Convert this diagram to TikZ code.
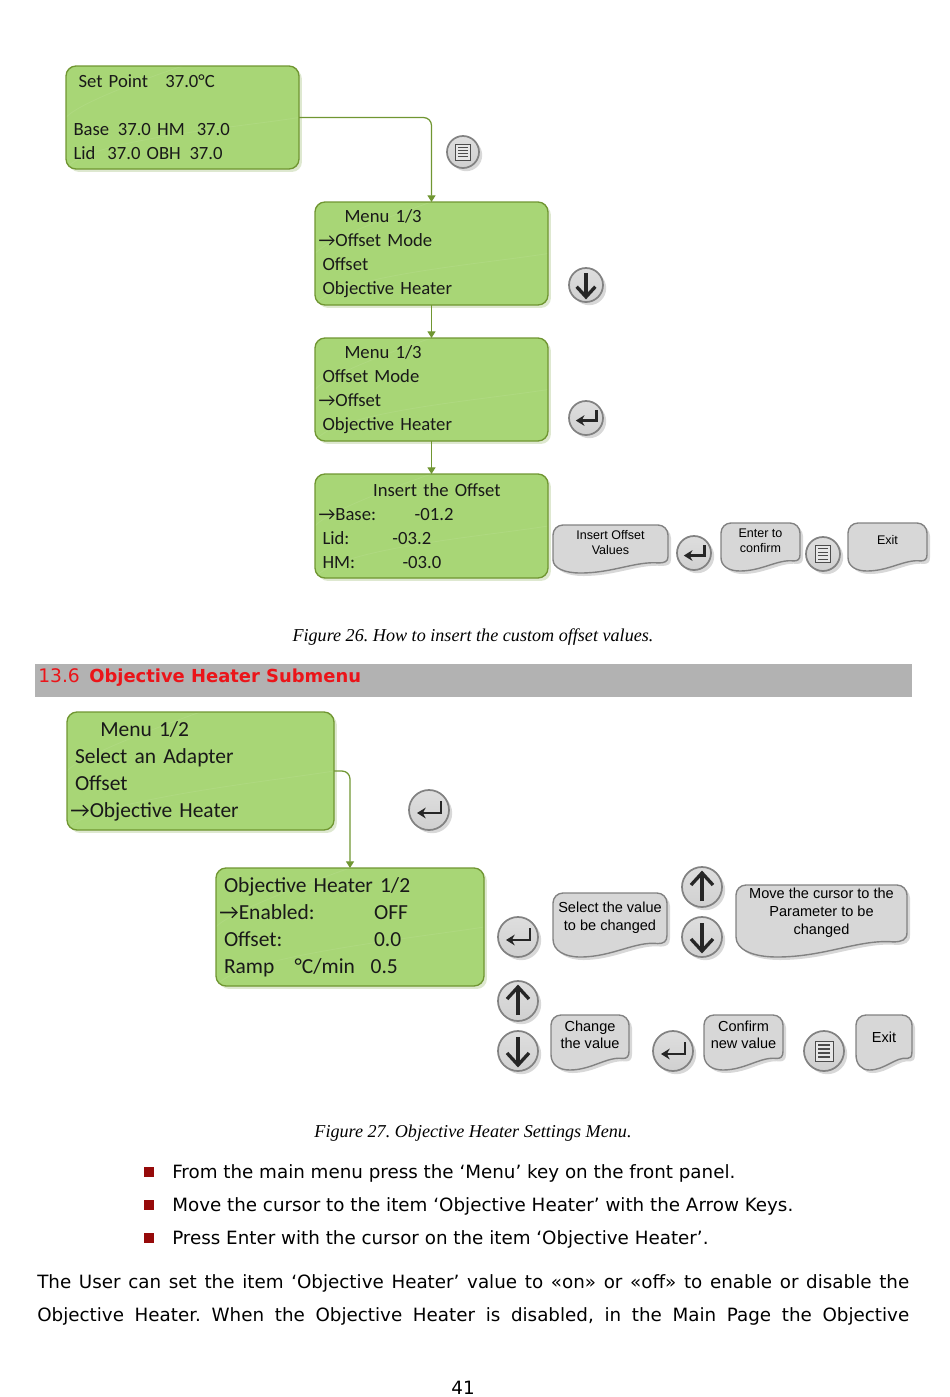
\documentclass[tikz,border=0pt]{standalone}
\usepackage{fontspec}
\setmainfont{DejaVu Sans}
\newfontfamily\lcdfont{Carlito}
\newfontfamily\calloutfont{Liberation Sans}
\newfontfamily\captionfont{Liberation Serif}
\usepackage{xcolor}
\definecolor{lcdgreen}{RGB}{168, 214, 118}
\definecolor{lcdedge}{RGB}{112, 150, 50}
\definecolor{lcdshadow}{RGB}{222, 232, 208}
\definecolor{keygrey}{RGB}{208, 208, 208}
\definecolor{keyedge}{RGB}{130, 130, 130}
\definecolor{keyshadow}{RGB}{216, 216, 216}
\definecolor{bargrey}{RGB}{178, 178, 178}
\definecolor{headred}{RGB}{235, 20, 25}
\definecolor{bulletred}{RGB}{150, 10, 10}
\usetikzlibrary{
  arrows.meta,
  calc
}
\tikzset{
  lcd/.style={draw=lcdedge, line width=1pt, fill=lcdgreen, rounded corners=7.5pt, outer sep=0pt,
    preaction={draw=none, fill=lcdshadow, transform canvas={shift={(2.2pt,-2.2pt)}}},
    path picture={
      \draw[white, opacity=0.08, line width=0.6pt, sharp corners]
        (path picture bounding box.south west) .. controls +(15pt,22pt) and +(-50pt,-8pt) .. (path picture bounding box.east);
      \draw[white, opacity=0.08, line width=0.6pt, sharp corners]
        (path picture bounding box.west) .. controls +(10pt,12pt) and +(-12pt,-4pt) .. (path picture bounding box.north);
    },
    anchor=north west, align=left, inner xsep=0pt, inner ysep=0pt, text=black!90},
  lcdsmall/.style={lcd, font=\lcdfont\fontsize{14}{18}\selectfont},
  lcdbig/.style={lcd, font=\lcdfont\fontsize{16.1}{20.25}\selectfont},
  flow/.style={draw=lcdedge, line width=0.95pt, rounded corners=6pt, -{Triangle[length=5pt, width=6pt]}},
  keybtn/.style={circle, draw=keyedge, line width=1.3pt, top color=keygrey!70, bottom color=keygrey, outer sep=0pt,
    inner sep=0pt, preaction={draw=none, fill=keyshadow, transform canvas={shift={(2.4pt,-2.4pt)}}}},
  waveline/.style={draw=keyedge, line width=1.05pt, fill=keygrey!85},
  waveshadow/.style={fill=keyshadow, draw=none},
  calltiny/.style={font=\calloutfont\fontsize{9.4}{11.2}\selectfont, align=center, inner sep=0pt},
  callbig/.style={font=\calloutfont\fontsize{10.9}{13.4}\selectfont, align=center, inner sep=0pt},
  keyicon/.style={line width=2pt, black!85},
  figcaption/.style={font=\captionfont\itshape\fontsize{13.6}{16}\selectfont, inner sep=0pt},
  bodytext/.style={font=\fontsize{13.72}{16}\selectfont, anchor=west, inner sep=0pt},
  bulletmark/.style={fill=bulletred, minimum size=7.5pt, inner sep=0pt}
}
% grey key with its icon: name, x, y, radius
\newcommand{\enterkey}[4]{
  \node[keybtn, minimum size=#4*1.5pt] (#1) at (#2,#3) {};
  \begin{scope}[shift={(#1.center)}, scale=#4/20]
    \draw[keyicon, -{Stealth[length=6.5pt, width=8pt]}] (12,-9) -- (12,3) -- (-12,3);
  \end{scope}
}
\newcommand{\upkey}[4]{
  \node[keybtn, minimum size=#4*1.5pt] (#1) at (#2,#3) {};
  \begin{scope}[shift={(#1.center)}, scale=#4/20]
    \draw[keyicon, line width=2.5pt] (0,14) -- (0,-13);
    \draw[keyicon, line width=2.5pt] (-11,-2) -- (0,-14) -- (11,-2);
  \end{scope}
}
\newcommand{\downkey}[4]{
  \node[keybtn, minimum size=#4*1.5pt] (#1) at (#2,#3) {};
  \begin{scope}[shift={(#1.center)}, scale=#4/20]
    \draw[keyicon, line width=2.5pt] (0,-14) -- (0,13);
    \draw[keyicon, line width=2.5pt] (-11,2) -- (0,14) -- (11,2);
  \end{scope}
}
\newcommand{\menukey}[4]{
  \node[keybtn, minimum size=#4*1.5pt] (#1) at (#2,#3) {};
  \begin{scope}[shift={(#1.center)}, scale=#4/20]
    \draw[black!70, line width=0.7pt, fill=keygrey!50] (-9,-10) rectangle (9,10);
    \foreach \rowy in {-6,-2,2,6}
      \draw[black!70, line width=0.8pt] (-6,\rowy) -- (6,\rowy);
  \end{scope}
}
% wavy callout: style, name, x0, y0, x1, y1, text
\newcommand{\wavepath}{
  (0,\waverb) .. controls (0,{0.45*\waverb}) and ({0.45*\waverx},0) .. (\waverx,0)
  -- ({1-\waverx},0) .. controls ({1-0.45*\waverx},0) and (1,{0.45*\waverb}) .. (1,\waverb)
  -- (1,0.66) .. controls (1,0.76) and (0.97,0.79) .. (0.92,0.79)
  .. controls (0.72,0.75) and (0.52,1) .. (0.24,1)
  .. controls (0.1,1) and (0,0.9) .. (0,0.72) -- cycle
}
\newcommand{\wavekey}[7]{
  \pgfmathsetmacro{\wavew}{(#5-#3)*0.75}
  \pgfmathsetmacro{\waveh}{(#6-#4)*-0.75}
  \pgfmathsetmacro{\waverx}{10/(#5-#3)}
  \pgfmathsetmacro{\waverb}{10/(#6-#4)}
  \begin{scope}[shift={(#3+3,#4+3)}, x=\wavew pt, y=\waveh pt]
    \path[waveshadow] \wavepath;
  \end{scope}
  \begin{scope}[shift={(#3,#4)}, x=\wavew pt, y=\waveh pt]
    \path[waveline] \wavepath;
    \node[#1] (#2) at (0.5,0.36) {#7};
  \end{scope}
}
\newcommand{\cursorarrow}{→}
\frenchspacing
\begin{document}
\begin{tikzpicture}[x=0.75pt, y=-0.75pt]
  \useasboundingbox (0,0) rectangle (950,1397);

  % FIGURE 26 - panels
  \node[lcdsmall, minimum width=174.75pt, minimum height=77.25pt, text width=163.5pt] (setpoint) at (66,66)
    {\hspace*{3.75pt}Set Point\hspace{13pt}37.0°C\\ \mbox{}\\ Base\hspace{6.5pt}37.0 HM\hspace{9pt}37.0\\ Lid\hspace{9pt}37.0 OBH\hspace{6.5pt}37.0};
  \node[lcdsmall, minimum width=174.75pt, minimum height=77.25pt, text width=163.5pt] (menuA) at (315,202)
    {\hspace*{16.5pt}Menu 1/3\\ \hspace*{-3pt}\cursorarrow Offset Mode\\ Offset\\ Objective Heater};
  \node[lcdsmall, minimum width=174.75pt, minimum height=77.25pt, text width=163.5pt] (menuB) at (315,338)
    {\hspace*{16.5pt}Menu 1/3\\ Offset Mode\\ \hspace*{-3pt}\cursorarrow Offset\\ Objective Heater};
  \node[lcdsmall, minimum width=174.75pt, minimum height=78pt, text width=163.5pt] (insert) at (315,474)
    {\hspace*{38pt}Insert the Offset\\ \hspace*{-3pt}\cursorarrow\makebox[59.5pt][l]{Base:}-01.2\\ \makebox[52.5pt][l]{Lid:}-03.2\\ \makebox[60pt][l]{HM:}-03.0};

  \draw[flow] (setpoint.east) -| (menuA.north);
  \draw[flow] (menuA.south) -- (menuB.north);
  \draw[flow] (menuB.south) -- (insert.north);

  \menukey{keyA}{463}{152}{16}
  \downkey{keyB}{586}{285}{17}
  \enterkey{keyC}{586}{418}{17}
  \enterkey{keyD}{694}{553}{17}
  \menukey{keyE}{823}{554}{17}

  \wavekey{calltiny}{insertnote}{553}{525}{668}{573}{Insert Offset\\Values}
  \wavekey{calltiny}{enternote}{721}{523}{800}{571}{Enter to\\confirm}
  \wavekey{calltiny}{exitnote}{848}{523}{927}{571}{Exit}

  \node[figcaption] (capA) at (473,637) {Figure 26. How to insert the custom offset values.};

  % SECTION BAR
  \node[fill=bargrey, anchor=north west, minimum width=657.75pt, minimum height=24.75pt, inner sep=0pt] (bar) at (35,664) {};
  \node[anchor=base west, inner sep=0pt, text=headred, font=\fontsize{14}{16}\selectfont] (barnum) at (38,682) {13.6};
  \node[anchor=base west, inner sep=0pt, text=headred, font=\bfseries\fontsize{13.45}{16}\selectfont] (bartitle) at (89,682) {Objective Heater Submenu};

  % FIGURE 27 - panels
  \node[lcdbig, minimum width=200.25pt, minimum height=88.5pt, text width=188.25pt] (adapter) at (67,712)
    {\hspace*{19pt}Menu 1/2\\ Select an Adapter\\ Offset\\ \hspace*{-3.5pt}\cursorarrow Objective Heater};
  \node[lcdbig, minimum width=201pt, minimum height=88.5pt, text width=189pt] (heater) at (216,868)
    {Objective Heater 1/2\\ \hspace*{-3.5pt}\cursorarrow\makebox[101.5pt][l]{Enabled:}OFF\\ \makebox[112.5pt][l]{Offset:}0.0\\ \makebox[53pt][l]{Ramp}\makebox[57pt][l]{°C/min}0.5};

  \draw[flow] (adapter.east) -| (heater.north);

  \enterkey{keyF}{429}{810}{20}
  \enterkey{keyG}{518}{937}{20}
  \upkey{keyH}{702}{887}{20}
  \downkey{keyI}{702}{937}{20}
  \upkey{keyJ}{518}{1001}{20}
  \downkey{keyK}{518}{1051}{20}
  \enterkey{keyL}{673}{1051}{20}
  \menukey{keyM}{824}{1051}{20}

  \wavekey{callbig, yshift=-1.5pt}{selectnote}{553}{893}{667}{957}{Select the value\\to be changed}
  \wavekey{callbig, yshift=-1.5pt}{movenote}{736}{885}{907}{957}{Move the cursor to the\\Parameter to be\\changed}
  \wavekey{callbig}{changenote}{551}{1015}{629}{1070}{Change\\the value}
  \wavekey{callbig}{confirmnote}{704}{1015}{783}{1070}{Confirm\\new value}
  \wavekey{callbig, yshift=-1.5pt}{leavenote}{856}{1015}{912}{1070}{Exit}

  \node[figcaption] (capB) at (473,1133) {Figure 27. Objective Heater Settings Menu.};

  % BULLETS AND BODY
  \node[bulletmark] (markA) at (149,1172) {};
  \node[bulletmark] (markB) at (149,1205) {};
  \node[bulletmark] (markC) at (149,1238) {};
  \node[bodytext] (stepA) at (172,1173) {From the main menu press the ‘Menu’ key on the front panel.};
  \node[bodytext] (stepB) at (172,1206) {Move the cursor to the item ‘Objective Heater’ with the Arrow Keys.};
  \node[bodytext] (stepC) at (172,1239) {Press Enter with the cursor on the item ‘Objective Heater’.};
  \node[bodytext] (paraA) at (37,1283) {\makebox[654pt][s]{The User can set the item ‘Objective Heater’ value to «on» or «off» to enable or disable the}};
  \node[bodytext] (paraB) at (37,1316) {\makebox[654pt][s]{Objective Heater. When the Objective Heater is disabled, in the Main Page the Objective}};
  \node[bodytext, anchor=center] (pagenum) at (463,1388) {41};
\end{tikzpicture}
\end{document}
